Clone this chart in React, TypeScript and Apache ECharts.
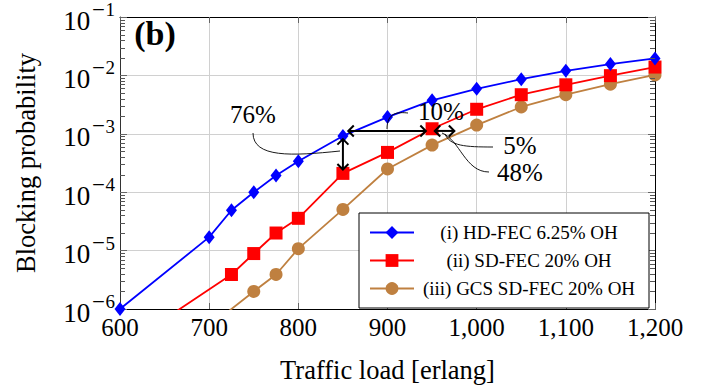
import React, { useEffect, useRef } from "react";
import * as echarts from "echarts";

const FONT = "'Liberation Serif', 'Times New Roman', serif";

const loads = [600, 650, 700, 725, 750, 775, 800, 850, 900, 950, 1000, 1050, 1100, 1150, 1200];
const hdFec = [1e-6, null, 1.7e-5, 4.9e-5, 1.0e-4, 1.93e-4, 3.4e-4, 9.2e-4, 1.93e-3, 3.74e-3, 5.9e-3, 8.6e-3, 1.2e-2, 1.56e-2, 1.95e-2];
const sdFec = [null, 6.7e-7, null, 3.9e-6, 8.9e-6, 2.0e-5, 3.57e-5, 2.1e-4, 4.8e-4, 1.22e-3, 2.63e-3, 4.67e-3, 6.9e-3, 9.9e-3, 1.39e-2];
const gcsFec = [null, null, 5.0e-7, null, 2.0e-6, 3.9e-6, 1.08e-5, 5.07e-5, 2.5e-4, 6.4e-4, 1.41e-3, 2.88e-3, 4.67e-3, 7.07e-3, 1.02e-2];

const seriesNames = ["(i) HD-FEC 6.25% OH", "(ii) SD-FEC 20% OH", "(iii) GCS SD-FEC 20% OH"];
const seriesColors = ["#0000ff", "#ff0000", "#bf8040"];
const decadeExps = [-6, -5, -4, -3, -2, -1];
const minorMult = [2, 3, 4, 5, 6, 7, 8, 9];

// annotations (data coordinates)
const vArrow = { x: 850, top: 8.1e-4, bottom: 2.45e-4 };
const hArrow = { y: 1.12e-3, x0: 856, x1: 943 };
const sArrow = { y: 1.12e-3, x0: 953, x1: 975 };

function pairs(vals: (number | null)[]) {
  return loads.map((x, i) => [x, vals[i]]).filter((p) => p[1] !== null);
}

function arrowHead(tip: number[], dir: number[]) {
  const L = 5.5, W = 5.5;
  const len = Math.hypot(dir[0], dir[1]);
  const ux = dir[0] / len, uy = dir[1] / len;
  const px = -uy, py = ux;
  return {
    type: "polyline",
    shape: {
      points: [
        [tip[0] - ux * L + px * W, tip[1] - uy * L + py * W],
        [tip[0], tip[1]],
        [tip[0] - ux * L - px * W, tip[1] - uy * L - py * W],
      ],
    },
    style: { stroke: "#000", lineWidth: 2, fill: null },
    z: 100,
  };
}

function doubleArrow(a: number[], b: number[]) {
  return [
    { type: "line", shape: { x1: a[0], y1: a[1], x2: b[0], y2: b[1] }, style: { stroke: "#000", lineWidth: 2 }, z: 100 },
    arrowHead(a, [a[0] - b[0], a[1] - b[1]]),
    arrowHead(b, [b[0] - a[0], b[1] - a[1]]),
  ];
}

export default function App() {
  const ref = useRef<HTMLDivElement>(null);
  useEffect(() => {
    if (!ref.current) return;
    const chart = echarts.init(ref.current, null, { renderer: "svg" });
    const symbols = ["diamond", "rect", "circle"];
    const sizes: any[] = [[11, 14], 13, 13];
    const data = [hdFec, sdFec, gcsFec];
    chart.setOption({
      animation: false,
      backgroundColor: "#fff",
      textStyle: { fontFamily: FONT },
      grid: { left: 120, right: 49, top: 15, bottom: 78 },
      xAxis: [
        {
          type: "value",
          min: 600,
          max: 1200,
          interval: 100,
          name: "Traffic load [erlang]",
          nameLocation: "middle",
          nameGap: 47,
          nameTextStyle: { fontFamily: FONT, fontSize: 26.5, color: "#000" },
          axisLine: { show: true, lineStyle: { color: "#000", width: 1 } },
          axisTick: { show: true, inside: true, length: 6, lineStyle: { color: "#666" } },
          axisLabel: {
            fontFamily: FONT,
            fontSize: 25,
            color: "#000",
            margin: 6,
            formatter: (v: number) => v.toLocaleString("en-US"),
          },
          splitLine: { show: true, lineStyle: { color: "#d0d0d0", width: 1 } },
        },
        {
          type: "value",
          position: "top",
          min: 600,
          max: 1200,
          interval: 100,
          axisLine: { show: true, lineStyle: { color: "#000", width: 1 } },
          axisTick: { show: true, inside: true, length: 6, lineStyle: { color: "#666" } },
          axisLabel: { show: false },
          splitLine: { show: false },
        },
      ],
      yAxis: [
        {
          type: "log",
          logBase: 10,
          min: 1e-6,
          max: 1e-1,
          name: "Blocking probability",
          nameLocation: "middle",
          nameGap: 81,
          nameTextStyle: { fontFamily: FONT, fontSize: 26.5, color: "#000" },
          axisLine: { show: true, lineStyle: { color: "#333", width: 1 } },
          axisTick: { show: true, inside: true, length: 7, lineStyle: { color: "#666" } },
          axisLabel: {
            margin: 5,
            fontFamily: FONT,
            formatter: (v: number) => {
              const e = Math.round(Math.log10(v));
              return `{b|10}{m|\u2212}{s|${-e}}`;
            },
            rich: {
              b: { fontFamily: FONT, fontSize: 27, color: "#000", lineHeight: 34, verticalAlign: "bottom" },
              m: { fontFamily: "'DejaVu Serif', serif", fontSize: 17, color: "#000", lineHeight: 18, verticalAlign: "top", padding: [0, 0, 0, 1] },
              s: { fontFamily: FONT, fontSize: 19, color: "#000", lineHeight: 18, verticalAlign: "top" },
            },
          },
          splitLine: { show: true, lineStyle: { color: "#d0d0d0", width: 1 } },
        },
        {
          type: "log",
          logBase: 10,
          min: 1e-6,
          max: 1e-1,
          position: "right",
          axisLine: { show: true, lineStyle: { color: "#000", width: 1 } },
          axisTick: { show: true, inside: true, length: 7, lineStyle: { color: "#666" } },
          axisLabel: { show: false },
          splitLine: { show: false },
        },
      ],
      legend: {
        orient: "vertical",
        left: 359,
        top: 213,
        padding: [10, 10, 10, 10],
        itemGap: 9,
        itemWidth: 44,
        itemHeight: 16,
        borderColor: "#000",
        borderWidth: 1,
        borderRadius: 0,
        backgroundColor: "#fff",
        formatter: "{c|{name}}",
        textStyle: {
          fontFamily: FONT,
          rich: {
            c: { fontFamily: FONT, fontSize: 19, color: "#000", width: 220, align: "center", lineHeight: 18 },
          },
        },
        data: seriesNames,
      },
      series: seriesNames.map((name, i) => ({
        name,
        type: "line",
        data: pairs(data[i]),
        symbol: symbols[i],
        symbolSize: sizes[i],
        clip: true,
        connectNulls: true,
        color: seriesColors[i],
        lineStyle: { color: seriesColors[i], width: 1.8 },
        itemStyle: { color: seriesColors[i] },
        z: 10 - i,
      })),
    });

    const toPx = (x: number, y: number) => chart.convertToPixel({ xAxisIndex: 0, yAxisIndex: 0 }, [x, y]) as number[];

    // minor log ticks (positions from the log axis itself), on both sides, pointing inwards
    const minorTickEls: any[] = [];
    decadeExps.slice(0, 5).forEach((d) =>
      minorMult.forEach((m) => {
        const v = m * Math.pow(10, d);
        const pl = toPx(600, v);
        const pr = toPx(1200, v);
        const y = Math.round(pl[1]) + 0.5;
        minorTickEls.push(
          { type: "line", shape: { x1: pl[0], y1: y, x2: pl[0] + 5, y2: y }, style: { stroke: "#555", lineWidth: 1 }, z: 50, silent: true },
          { type: "line", shape: { x1: pr[0] - 5, y1: y, x2: pr[0], y2: y }, style: { stroke: "#555", lineWidth: 1 }, z: 50, silent: true }
        );
      })
    );

    const vt = toPx(vArrow.x, vArrow.top);
    const vb = toPx(vArrow.x, vArrow.bottom);
    const h0 = toPx(hArrow.x0, hArrow.y);
    const h1 = toPx(hArrow.x1, hArrow.y);
    const s0 = toPx(sArrow.x0, sArrow.y);
    const s1 = toPx(sArrow.x1, sArrow.y);

    const txt = (text: string, x: number, y: number, extra: any = {}) => ({
      type: "text",
      x,
      y,
      z: 101,
      style: { text, fontFamily: FONT, fontSize: 25, fontWeight: "normal", fill: "#000", align: "center", verticalAlign: "middle", ...extra },
    });
    const curve = (x1: number, y1: number, c1x: number, c1y: number, c2x: number, c2y: number, x2: number, y2: number) => ({
      type: "bezierCurve",
      shape: { x1, y1, cpx1: c1x, cpy1: c1y, cpx2: c2x, cpy2: c2y, x2, y2 },
      style: { stroke: "#000", lineWidth: 0.9, fill: null },
      z: 99,
    });

    chart.setOption({
      graphic: [
        ...minorTickEls,
        txt("(b)", 155, 33, { fontSize: 34, fontWeight: "bold" }),
        ...doubleArrow(vt, vb),
        ...doubleArrow(h0, h1),
        ...doubleArrow(s0, s1),
        txt("76%", 253, 114),
        curve(253, 133, 253, 158, 292, 156, 340, 151),
        txt("10%", 441, 111),
        curve(387, 129, 387, 112, 398, 112, 408, 113),
        txt("5%", 520, 145),
        curve(445, 134, 450, 146, 465, 147, 493, 147),
        txt("48%", 520, 172),
        curve(442, 133, 460, 140, 465, 172, 489, 172),
      ],
    });

    return () => chart.dispose();
  }, []);
  return <div ref={ref} style={{ position: "fixed", left: 0, top: 0, width: 704, height: 388 }} />;
}
